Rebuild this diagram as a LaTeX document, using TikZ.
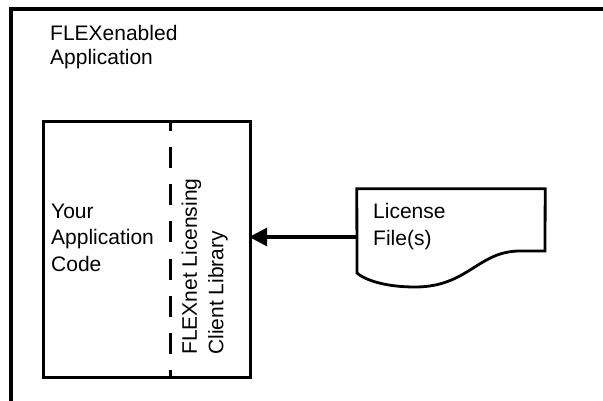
\documentclass[tikz,border=0pt]{standalone}
\usepackage{fontspec}
\setmainfont{Liberation Sans}
\usetikzlibrary{arrows.meta}

\begin{document}
\begin{tikzpicture}[x=1pt,y=1pt,
  frame/.style={line width=3.3pt},
  box/.style={draw,line width=3pt,inner sep=0pt},
  label/.style={font=\fontsize{21}{26.5}\selectfont,align=left,inner sep=0pt,anchor=base west},
  feed/.style={line width=3.5pt,-{Triangle[length=18pt,width=18pt]}}]
  \useasboundingbox (0,0) rectangle (603,-401);

  % outer application frame
  \draw[frame] (11,-401) |- (603,-9);
  \node[label,font=\fontsize{21}{24.5}\selectfont] (flex) at (50,-65) {FLEXenabled\\Application};

  % application code and library
  \node[box,minimum width=207pt,minimum height=255.5pt] (app) at (147,-249.75) {};
  \node[inner sep=0pt,minimum width=79.8pt,minimum height=255.5pt] (lib) at (210.6,-249.75) {};
  \draw[line width=2.5pt,dash pattern=on 21pt off 16.2pt,dash phase=12pt] (lib.north west) -- (lib.south west);
  \node[label] (code) at (51,-271) {Your\\Application\\Code};
  \node[label,rotate=90] (libtext) at (223.3,-355) {FLEXnet Licensing\\Client Library};

  % license file
  \node[inner sep=0pt,minimum width=188pt,minimum height=96pt] (doc) at (451,-237) {};
  \draw[line width=2.8pt] (doc.north west) -- (doc.north east) -- (545,-251) -- (520,-251)
    .. controls (478,-251) and (468,-287) .. (415,-287)
    .. controls (385,-287) and (365,-280) .. (357,-273) -- cycle;
  \node[label] (lic) at (373,-245) {License\\File(s)};
  \draw[feed,shorten >=-1.5pt] (doc.west) -- (lib.east |- doc.west);
\end{tikzpicture}
\end{document}
